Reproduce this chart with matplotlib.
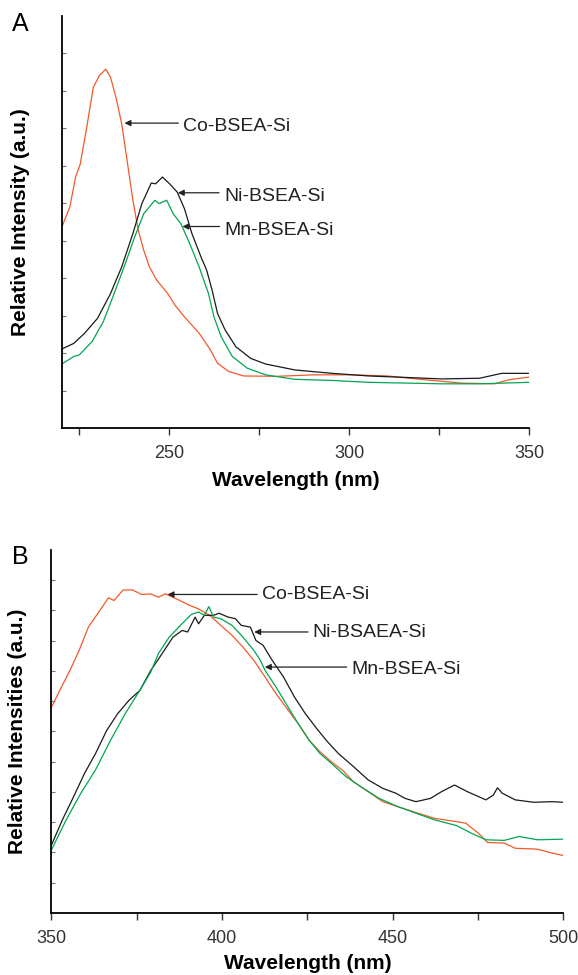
import matplotlib
matplotlib.use("Agg")
import matplotlib.pyplot as plt

plt.rcParams["font.family"] = ["Liberation Sans", "DejaVu Sans"]

# ---- panel A data (wavelength nm, relative intensity a.u.) ----
a_co_x = [220.3, 222.5, 224.1, 225.4, 227.2, 229.0, 230.7, 232.5, 233.8, 235.3,
          236.9, 238.4, 240.0, 241.5, 243.0, 244.6, 246.6, 249.7, 251.7, 254.3,
          258.4, 261.5, 263.5, 266.6, 270.7, 279.9, 290.2, 300.4, 310.7, 320.9,
          331.1, 340.4, 344.5, 350.0]
a_co_y = [5.37, 5.90, 6.70, 7.05, 8.03, 9.09, 9.41, 9.58, 9.36, 8.83,
          8.12, 7.14, 6.08, 5.28, 4.75, 4.30, 3.95, 3.59, 3.28, 2.97,
          2.53, 2.09, 1.73, 1.51, 1.39, 1.38, 1.42, 1.42, 1.39, 1.29,
          1.20, 1.18, 1.29, 1.36]

a_ni_x = [220.3, 223.6, 226.6, 230.2, 233.8, 236.9, 240.0, 242.5, 245.1, 246.3,
          248.2, 250.2, 252.3, 254.3, 256.4, 258.9, 260.5, 262.0, 263.5, 265.6,
          268.6, 272.7, 276.8, 285.0, 295.3, 305.5, 315.8, 326.0, 336.3, 342.4,
          346.5, 350.0]
a_ni_y = [2.11, 2.26, 2.53, 2.93, 3.59, 4.30, 5.19, 5.99, 6.54, 6.52,
          6.70, 6.52, 6.30, 5.86, 5.19, 4.57, 4.21, 3.68, 3.06, 2.62,
          2.17, 1.86, 1.71, 1.55, 1.46, 1.39, 1.35, 1.31, 1.33, 1.46,
          1.46, 1.46]

a_mn_x = [220.3, 223.6, 225.1, 228.7, 231.8, 234.8, 237.9, 240.5, 243.0, 246.1,
          247.3, 249.4, 251.2, 253.3, 255.8, 258.4, 261.0, 262.5, 264.5, 267.6,
          271.7, 276.8, 285.0, 295.3, 305.5, 315.8, 326.0, 336.3, 350.0]
a_mn_y = [1.71, 1.91, 1.95, 2.31, 2.84, 3.59, 4.39, 5.10, 5.72, 6.08,
          5.99, 6.08, 5.72, 5.46, 4.92, 4.30, 3.59, 2.97, 2.44, 1.91,
          1.60, 1.42, 1.30, 1.27, 1.22, 1.20, 1.18, 1.18, 1.22]

# ---- panel B data ----
b_co_x = [350.0, 352.7, 355.4, 358.1, 360.8, 363.5, 366.7, 368.3, 371.0, 373.7,
          376.4, 379.1, 381.3, 383.4, 386.7, 389.9, 393.1, 396.4, 399.6, 402.9,
          406.1, 409.3, 412.6, 415.8, 419.0, 422.3, 425.5, 428.7, 432.0, 435.2,
          438.5, 442.8, 447.1, 451.4, 456.8, 462.2, 467.6, 471.4, 475.1, 477.8,
          482.7, 485.9, 492.4, 496.7, 500.0]
b_co_y = [6.81, 7.42, 8.02, 8.68, 9.45, 9.89, 10.42, 10.33, 10.68, 10.68,
          10.53, 10.55, 10.44, 10.55, 10.38, 10.20, 10.05, 9.84, 9.51, 9.18,
          8.79, 8.35, 7.80, 7.25, 6.76, 6.26, 5.71, 5.33, 5.00, 4.73,
          4.34, 4.01, 3.68, 3.52, 3.32, 3.13, 3.04, 2.97, 2.64, 2.33,
          2.31, 2.14, 2.11, 1.98, 1.90]

b_ni_x = [350.0, 353.2, 356.5, 359.7, 362.9, 366.2, 369.4, 372.7, 375.9, 379.1,
          382.4, 385.6, 388.3, 389.9, 392.1, 393.1, 394.8, 397.5, 399.1, 401.8,
          403.9, 405.6, 408.3, 409.9, 412.0, 414.7, 418.0, 421.2, 424.4, 427.7,
          430.9, 434.1, 438.5, 442.8, 447.1, 450.9, 453.6, 456.8, 461.1, 464.3,
          468.1, 471.9, 477.3, 479.5, 480.7, 482.1, 485.9, 491.3, 496.7, 500.0]
b_ni_y = [2.25, 3.08, 3.85, 4.62, 5.27, 6.04, 6.59, 7.03, 7.36, 8.02,
          8.57, 9.12, 9.34, 9.29, 9.78, 9.56, 9.84, 9.84, 9.91, 9.78,
          9.73, 9.51, 9.45, 9.01, 8.85, 8.35, 7.80, 7.14, 6.59, 6.10,
          5.66, 5.27, 4.84, 4.40, 4.12, 3.96, 3.79, 3.68, 3.79, 4.01,
          4.23, 4.01, 3.74, 3.90, 4.14, 3.96, 3.74, 3.66, 3.68, 3.66]

b_mn_x = [350.0, 354.3, 358.6, 362.9, 367.3, 371.6, 375.9, 379.1, 381.3, 384.5,
          387.8, 391.0, 393.1, 394.8, 396.1, 397.5, 399.6, 402.9, 406.1, 409.3,
          410.9, 412.6, 415.8, 419.0, 422.3, 425.5, 428.7, 432.0, 436.3, 440.6,
          446.0, 451.4, 456.8, 462.2, 468.7, 473.0, 477.3, 482.7, 487.0, 492.4,
          500.0]
b_mn_y = [2.09, 3.08, 3.96, 4.73, 5.71, 6.59, 7.36, 7.97, 8.57, 9.12,
          9.51, 9.87, 9.95, 9.84, 10.13, 9.78, 9.73, 9.51, 9.12, 8.68,
          8.41, 8.02, 7.47, 6.87, 6.26, 5.71, 5.27, 4.95, 4.51, 4.18,
          3.79, 3.52, 3.30, 3.08, 2.89, 2.64, 2.42, 2.40, 2.53, 2.42,
          2.44]

# annotation labels: (text, text x, text y, arrow tip x, arrow tip y)
a_labels = [("Co-BSEA-Si", 254.0, 8.05, 236.9, 8.14),
            ("Ni-BSEA-Si", 265.3, 6.17, 251.7, 6.28),
            ("Mn-BSEA-Si", 265.4, 5.27, 253.0, 5.38)]
b_labels = [("Co-BSEA-Si", 411.7, 10.53, 383.2, 10.53),
            ("Ni-BSAEA-Si", 426.6, 9.26, 408.6, 9.29),
            ("Mn-BSEA-Si", 437.9, 8.05, 411.7, 8.13)]

RED = "#f15a29"
GREEN = "#00a651"
BLACK = "#1a1a1a"


def style_axes(ax, xlim, ylim, xticks, minor, ylabel, ylab_x, xlab_y):
    ax.set_xlim(*xlim)
    ax.set_ylim(*ylim)
    for s in ["top", "right"]:
        ax.spines[s].set_visible(False)
    for s in ["left", "bottom"]:
        ax.spines[s].set_linewidth(1.3)
    ax.set_xticks(xticks)
    ax.set_xticks(minor, minor=True)
    ax.tick_params(axis="x", which="both", direction="out", length=5,
                   width=1, labelsize=13, colors="#333333", pad=7)
    ax.set_yticks(range(1, int(ylim[1])))
    ax.tick_params(axis="y", direction="in", length=3, width=0.8,
                   colors="#777777", labelleft=False)
    ax.set_xlabel("Wavelength (nm)", fontsize=15, fontweight="bold")
    ax.xaxis.set_label_coords(0.5, xlab_y)
    ax.set_ylabel(ylabel, fontsize=15, fontweight="bold")
    ax.yaxis.set_label_coords(ylab_x, 0.5)


def annotate(ax, labels):
    for text, tx, ty, ax_, ay in labels:
        ax.annotate("", xy=(ax_, ay), xytext=(tx - 0.6, ay),
                    arrowprops=dict(arrowstyle="-|>", color="#222222",
                                    lw=0.9, mutation_scale=9))
        ax.text(tx, ty, text, fontsize=14, va="center", ha="left",
                color="#222222")


def main():
    fig = plt.figure(figsize=(5.78, 9.75), dpi=100)

    ax1 = fig.add_axes([0.1071, 0.561, 0.8083, 0.4226])
    ax1.plot(a_co_x, a_co_y, color=RED, lw=0.9)
    ax1.plot(a_ni_x, a_ni_y, color=BLACK, lw=0.9)
    ax1.plot(a_mn_x, a_mn_y, color=GREEN, lw=0.9)
    style_axes(ax1, (220.3, 350), (0, 11), [250, 300, 350], [225, 275, 325],
               "Relative Intensity (a.u.)", -0.069, -0.105)
    annotate(ax1, a_labels)
    fig.text(0.035, 0.975, "A", fontsize=18, va="center", ha="center")

    ax2 = fig.add_axes([0.0891, 0.0636, 0.8855, 0.3723])
    ax2.plot(b_co_x, b_co_y, color=RED, lw=0.9)
    ax2.plot(b_ni_x, b_ni_y, color=BLACK, lw=0.9)
    ax2.plot(b_mn_x, b_mn_y, color=GREEN, lw=0.9)
    style_axes(ax2, (350, 500), (0, 12), [350, 400, 450, 500], [375, 425, 475],
               "Relative Intensities (a.u.)", -0.047, -0.113)
    annotate(ax2, b_labels)
    fig.text(0.036, 0.429, "B", fontsize=18, va="center", ha="center")

    fig.savefig("out.png", dpi=100)


if __name__ == "__main__":
    main()
